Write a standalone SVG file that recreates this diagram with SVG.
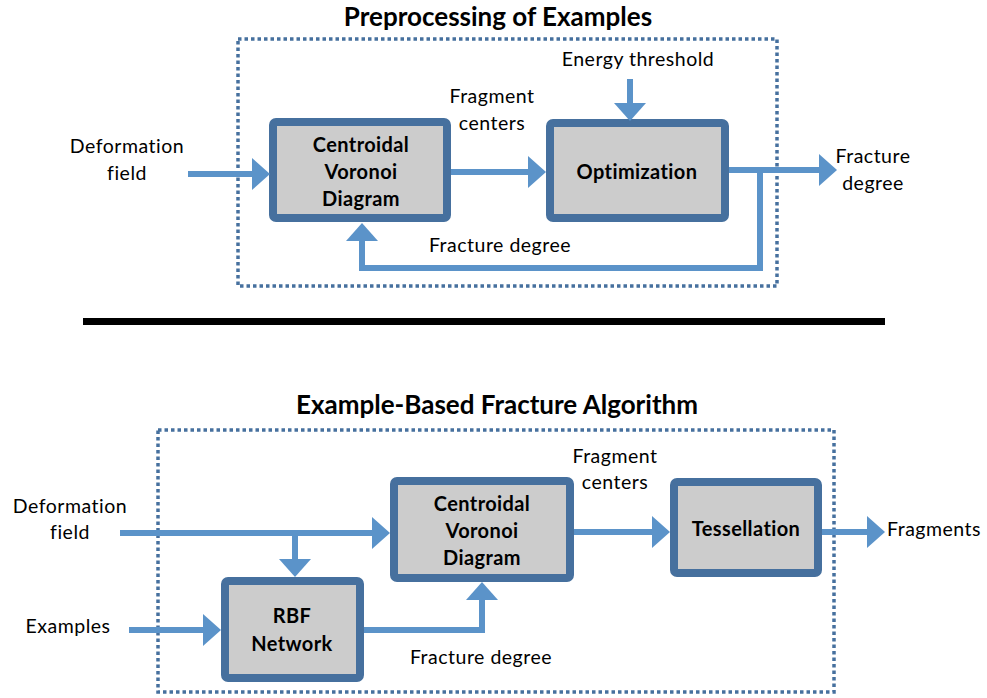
<svg xmlns="http://www.w3.org/2000/svg" width="987" height="698" viewBox="0 0 987 698">
<style>
.box{fill:#CCCCCC;stroke:#46709E;stroke-width:8;}
.frame{fill:none;stroke:#46709E;stroke-width:3.5;stroke-dasharray:3.5 3;}
.conn{fill:none;stroke:#5B93C9;stroke-width:6;marker-end:url(#ah);}
text{font-family:Lato,"Liberation Sans",sans-serif;fill:#000;}
.lbl{font-size:19.5px;letter-spacing:0.5px;text-anchor:middle;}
.bl{font-size:20px;letter-spacing:0.4px;font-weight:bold;text-anchor:middle;}
.title{font-size:26px;font-weight:bold;text-anchor:middle;}
</style>
<defs>
<marker id="ah" viewBox="0 0 18 32" markerWidth="18" markerHeight="32" markerUnits="userSpaceOnUse" refX="4" refY="16" orient="auto">
<path d="M0,0 L18,16 L0,32 z" fill="#5B93C9"/>
</marker>
</defs>
<rect width="987" height="698" fill="#fff"/>

<text class="title" x="498" y="26">Preprocessing of Examples</text>
<rect class="frame" x="238" y="39" width="539" height="247"/>
<rect x="83" y="318" width="802" height="7" fill="#000"/>
<text class="title" x="497" y="414">Example-Based Fracture Algorithm</text>
<rect class="frame" x="158" y="430" width="676" height="262"/>

<g id="top-cvd">
<rect class="box" x="273" y="122" width="174" height="96" rx="3"/>
<text class="bl" x="361" y="152">Centroidal</text>
<text class="bl" x="361" y="179">Voronoi</text>
<text class="bl" x="361" y="206">Diagram</text>
</g>
<g id="top-opt">
<rect class="box" x="550" y="123" width="175" height="95" rx="3"/>
<text class="bl" x="637" y="179">Optimization</text>
</g>
<g id="bot-cvd">
<rect class="box" x="394" y="481" width="176" height="97" rx="3"/>
<text class="bl" x="482" y="511">Centroidal</text>
<text class="bl" x="482" y="538">Voronoi</text>
<text class="bl" x="482" y="565">Diagram</text>
</g>
<g id="bot-tess">
<rect class="box" x="674" y="482" width="144" height="91" rx="3"/>
<text class="bl" x="746" y="536">Tessellation</text>
</g>
<g id="bot-rbf">
<rect class="box" x="225" y="581" width="135" height="97" rx="3"/>
<text class="bl" x="292" y="623">RBF</text>
<text class="bl" x="292" y="651">Network</text>
</g>

<g id="connectors">
<path class="conn" d="M188,174 H256"/>
<path class="conn" d="M451,172 H532"/>
<path class="conn" d="M630,79 V107"/>
<path class="conn" d="M729,170 H823"/>
<path class="conn" d="M760,170 V268 H362 V237"/>
<path class="conn" d="M120,533 H376"/>
<path class="conn" d="M295,533 V563"/>
<path class="conn" d="M129,630 H207"/>
<path class="conn" d="M364,630 H482 V596"/>
<path class="conn" d="M574,532 H656"/>
<path class="conn" d="M822,532 H871"/>
</g>

<g id="labels">
<text class="lbl" x="127" y="153">Deformation</text>
<text class="lbl" x="127" y="180">field</text>
<text class="lbl" x="492" y="103">Fragment</text>
<text class="lbl" x="492" y="130">centers</text>
<text class="lbl" x="638" y="66">Energy threshold</text>
<text class="lbl" x="873" y="163">Fracture</text>
<text class="lbl" x="873" y="190">degree</text>
<text class="lbl" x="500" y="252">Fracture degree</text>
<text class="lbl" x="70" y="513">Deformation</text>
<text class="lbl" x="70" y="539">field</text>
<text class="lbl" x="68" y="633">Examples</text>
<text class="lbl" x="615" y="463">Fragment</text>
<text class="lbl" x="615" y="489">centers</text>
<text class="lbl" x="481" y="664">Fracture degree</text>
<text class="lbl" x="887" y="536" style="text-anchor:start">Fragments</text>
</g>
</svg>
